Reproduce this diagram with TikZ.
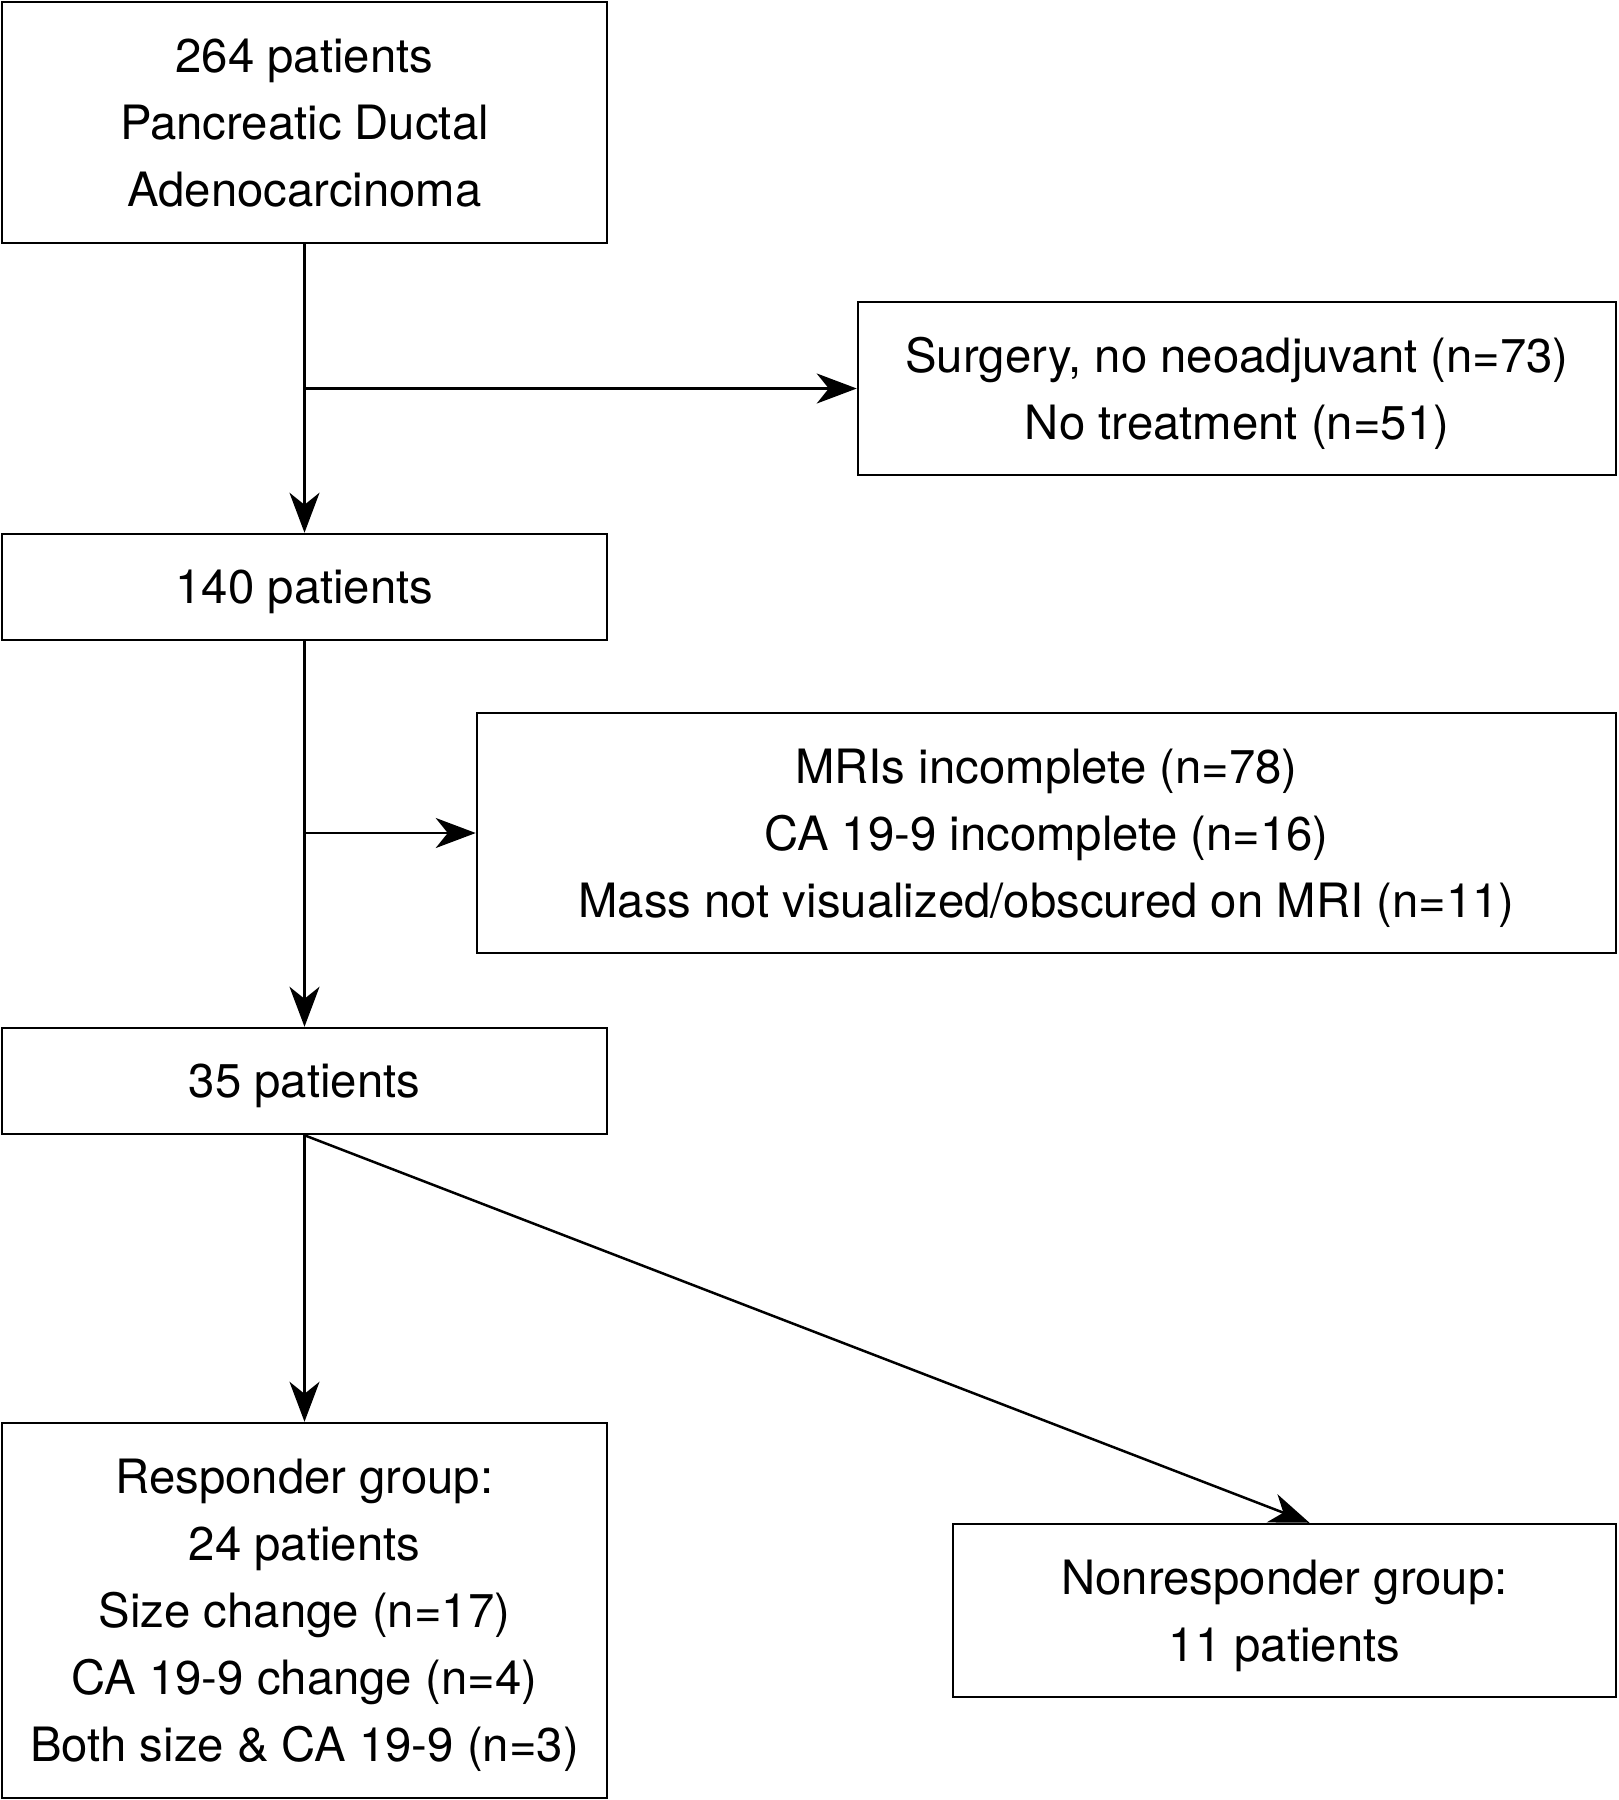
\documentclass[tikz,border=0pt]{standalone}
\usepackage{fontspec}
\setmainfont{TeX Gyre Heros}
\usetikzlibrary{arrows.meta}
\begin{document}
\begin{tikzpicture}[x=1pt,y=-1pt,
  box/.style={draw=black,line width=2.5pt,align=center,inner sep=0pt,text depth=0pt,
    font=\fontsize{47.3}{67}\selectfont},
  conn/.style={line width=2.5pt,-{Stealth[length=40pt,width=30pt,inset=12pt]}}]
\useasboundingbox (0,0) rectangle (1618,1800);
\node[box,minimum width=605pt,minimum height=241pt] (b1) at (304.5,122.5) {264 patients\\Pancreatic Ductal\\Adenocarcinoma};
\node[box,minimum width=758pt,minimum height=173pt] (b2) at (1237,388.5) {Surgery, no neoadjuvant (n=73)\\No treatment (n=51)};
\node[box,minimum width=605pt,minimum height=106pt] (b3) at (304.5,587) {140 patients};
\node[box,minimum width=1139pt,minimum height=240pt] (b4) at (1046.5,833) {MRIs incomplete (n=78)\\CA 19-9 incomplete (n=16)\\Mass not visualized/obscured on MRI (n=11)};
\node[box,minimum width=605pt,minimum height=106pt] (b5) at (304.5,1081) {35 patients};
\node[box,minimum width=605pt,minimum height=375pt] (b6) at (304.5,1610.5) {Responder group:\\24 patients\\Size change (n=17)\\CA 19-9 change (n=4)\\Both size \& CA 19-9 (n=3)};
\node[box,minimum width=663pt,minimum height=173pt] (b7) at (1284.5,1610.5) {Nonresponder group:\\11 patients};
\coordinate (j1) at (b1.south |- b2.west);
\coordinate (j2) at (b3.south |- b4.west);
\draw[conn] (b1.south) -- (b3.north);
\draw[conn] (j1) -- (b2.west);
\draw[conn] (b3.south) -- (b5.north);
\draw[conn] (j2) -- (b4.west);
\draw[conn] (b5.south) -- (b6.north);
\draw[conn] (b5.south) -- ([xshift=25pt]b7.north);
\end{tikzpicture}
\end{document}
